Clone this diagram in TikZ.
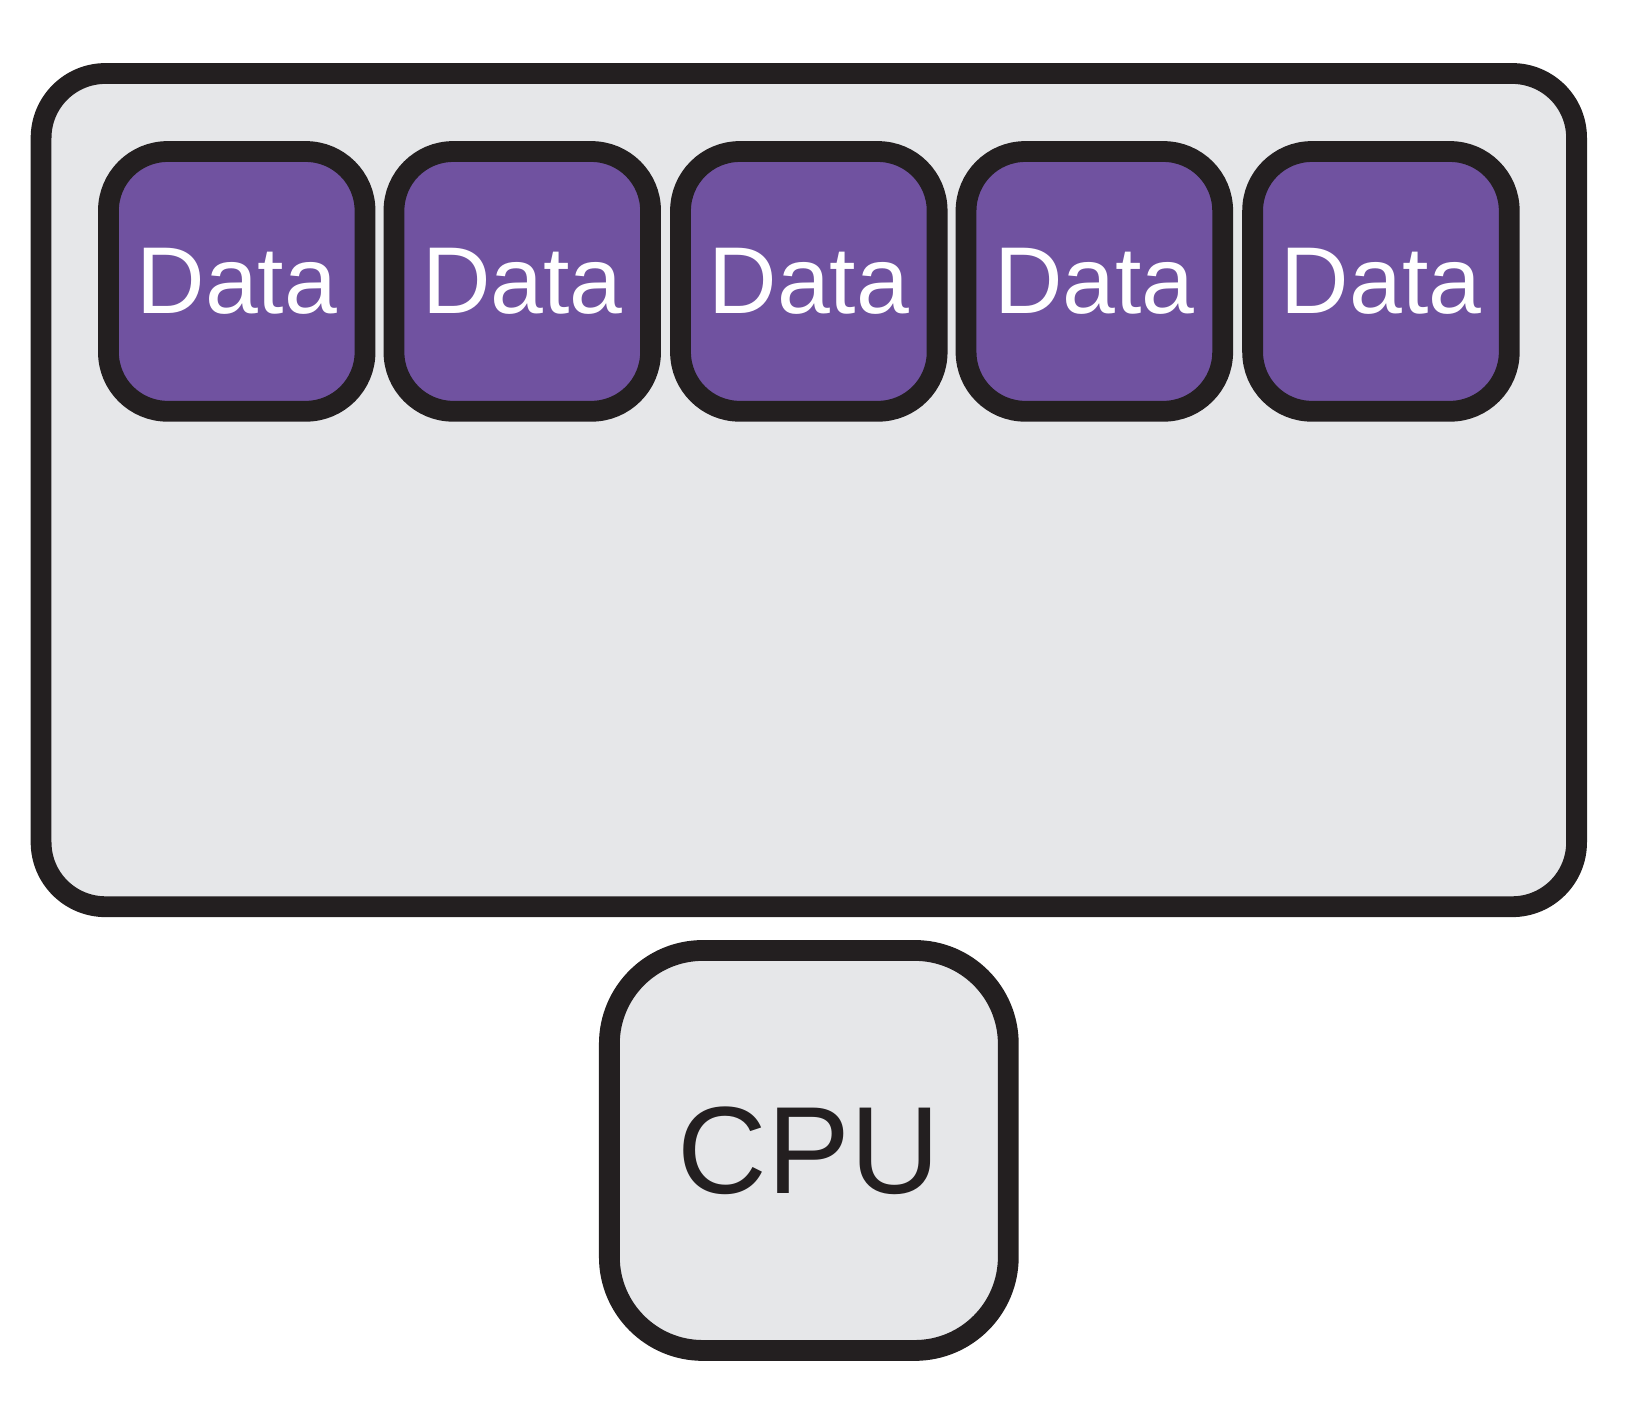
\documentclass[tikz,border=0pt]{standalone}
\usepackage{fontspec}
\setmainfont{Liberation Sans}
\definecolor{boxgray}{HTML}{E6E7E9}
\definecolor{datapurple}{HTML}{7052A0}
\definecolor{edge}{HTML}{231F20}
\begin{document}
\begin{tikzpicture}[x=0.01cm, y=-0.01cm,
                    line width=5.7pt,
                    draw=edge,
                    ]
    \tikzstyle{memory}=[rectangle,draw=edge,fill=boxgray,rounded corners=0.62cm,minimum width=14.78cm,minimum height=8.02cm]
    \tikzstyle{data}=[rectangle,draw=edge,fill=datapurple,rounded corners=0.57cm,minimum width=2.47cm,minimum height=2.5cm,text=white,font=\fontsize{26}{26}\selectfont,inner sep=0pt]
    \tikzstyle{cpu}=[rectangle,draw=edge,fill=boxgray,rounded corners=0.9cm,minimum width=3.84cm,minimum height=3.85cm,text=edge,font=\fontsize{34}{34}\selectfont]

    \useasboundingbox (0,0) rectangle (1567,1362);

    \node[memory] (mem) at (779,472) {};
    \foreach \i/\x in {1/228,2/503,3/779,4/1054,5/1330}
        \node[data] (d\i) at (\x,271) {Data};
    \node[cpu] (cpu) at (779,1108) {CPU};
\end{tikzpicture}
\end{document}
